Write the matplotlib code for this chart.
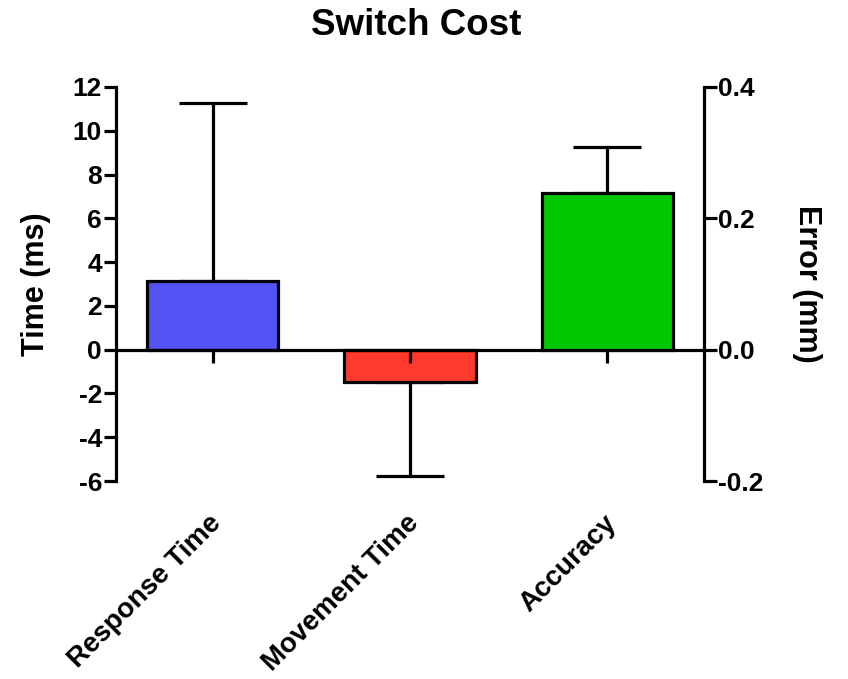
import matplotlib
matplotlib.use('Agg')
import matplotlib.pyplot as plt

plt.rcParams['font.family'] = ['Liberation Sans', 'DejaVu Sans']
plt.rcParams['font.weight'] = 'bold'
plt.rcParams['axes.unicode_minus'] = False

# switch cost per measure; accuracy is read on the right-hand axis
labels = ['Response Time', 'Movement Time', 'Accuracy']
time_vals = [3.15, -1.46]
time_err = [8.1, 4.3]
acc_val = 0.239
acc_err = 0.069
colors = ['#5252f5', '#ff3a2c', '#00c800']

fig = plt.figure(figsize=(8.48, 6.79), dpi=100)
ax = fig.add_axes([0.1368, 0.2916, 0.6934, 0.5803])
ax2 = ax.twinx()

lw = 2.3
x = [0, 1, 2]

ax.bar(x[:2], time_vals, width=0.665, color=colors[:2], edgecolor='black', linewidth=lw, zorder=3)
ax2.bar(x[2], acc_val, width=0.665, color=colors[2], edgecolor='black', linewidth=lw, zorder=3)

# one-sided error bars, pointing away from zero
for xi, v, e in zip(x[:2], time_vals, time_err):
    yerr = [[0], [e]] if v > 0 else [[e], [0]]
    ax.errorbar(xi, v, yerr=yerr, fmt='none', ecolor='black', elinewidth=lw,
                capsize=24.5, capthick=lw, zorder=2)
ax2.errorbar(x[2], acc_val, yerr=[[0], [acc_err]], fmt='none', ecolor='black',
             elinewidth=lw, capsize=24.5, capthick=lw, zorder=2)

ax.set_xlim(-0.49, 2.49)
ax.set_ylim(-6, 12)
ax2.set_ylim(-0.2, 0.4)
ax.set_yticks(range(-6, 13, 2))
ax2.set_yticks([-0.2, 0.0, 0.2, 0.4])
ax2.set_yticklabels(['-0.2', '0.0', '0.2', '0.4'])

for a in (ax, ax2):
    a.spines['top'].set_visible(False)
    a.spines['bottom'].set_visible(False)
    a.patch.set_visible(False)
ax.spines['right'].set_visible(False)
ax2.spines['left'].set_visible(False)
ax.spines['left'].set_linewidth(lw)
ax2.spines['right'].set_linewidth(lw)

ax.tick_params(axis='y', direction='out', length=9, width=lw, labelsize=19, pad=1)
ax2.tick_params(axis='y', direction='out', length=9, width=lw, labelsize=19, pad=1)

# zero line with category ticks hanging below it
ax.axhline(0, color='black', linewidth=lw, zorder=4)
ax.set_xticks(x)
ax.tick_params(axis='x', length=0, labelbottom=False)
ax.vlines(x, -0.6, 0, color='black', linewidth=lw, zorder=5)

for xi, lab in zip(x, labels):
    ax.annotate(lab, xy=(xi, -6), xycoords='data', xytext=(-3, -21),
                textcoords='offset points', rotation=45, ha='right', va='top',
                rotation_mode='anchor', fontsize=20, fontweight='bold')

ax.set_ylabel('Time (ms)', fontsize=22, fontweight='bold', labelpad=16)
ax2.set_ylabel('Error (mm)', fontsize=22, fontweight='bold', rotation=270, labelpad=42)

fig.text(0.491, 0.963, 'Switch Cost', ha='center', va='center', fontsize=26.5, fontweight='bold')

fig.savefig('out.png', dpi=100)
